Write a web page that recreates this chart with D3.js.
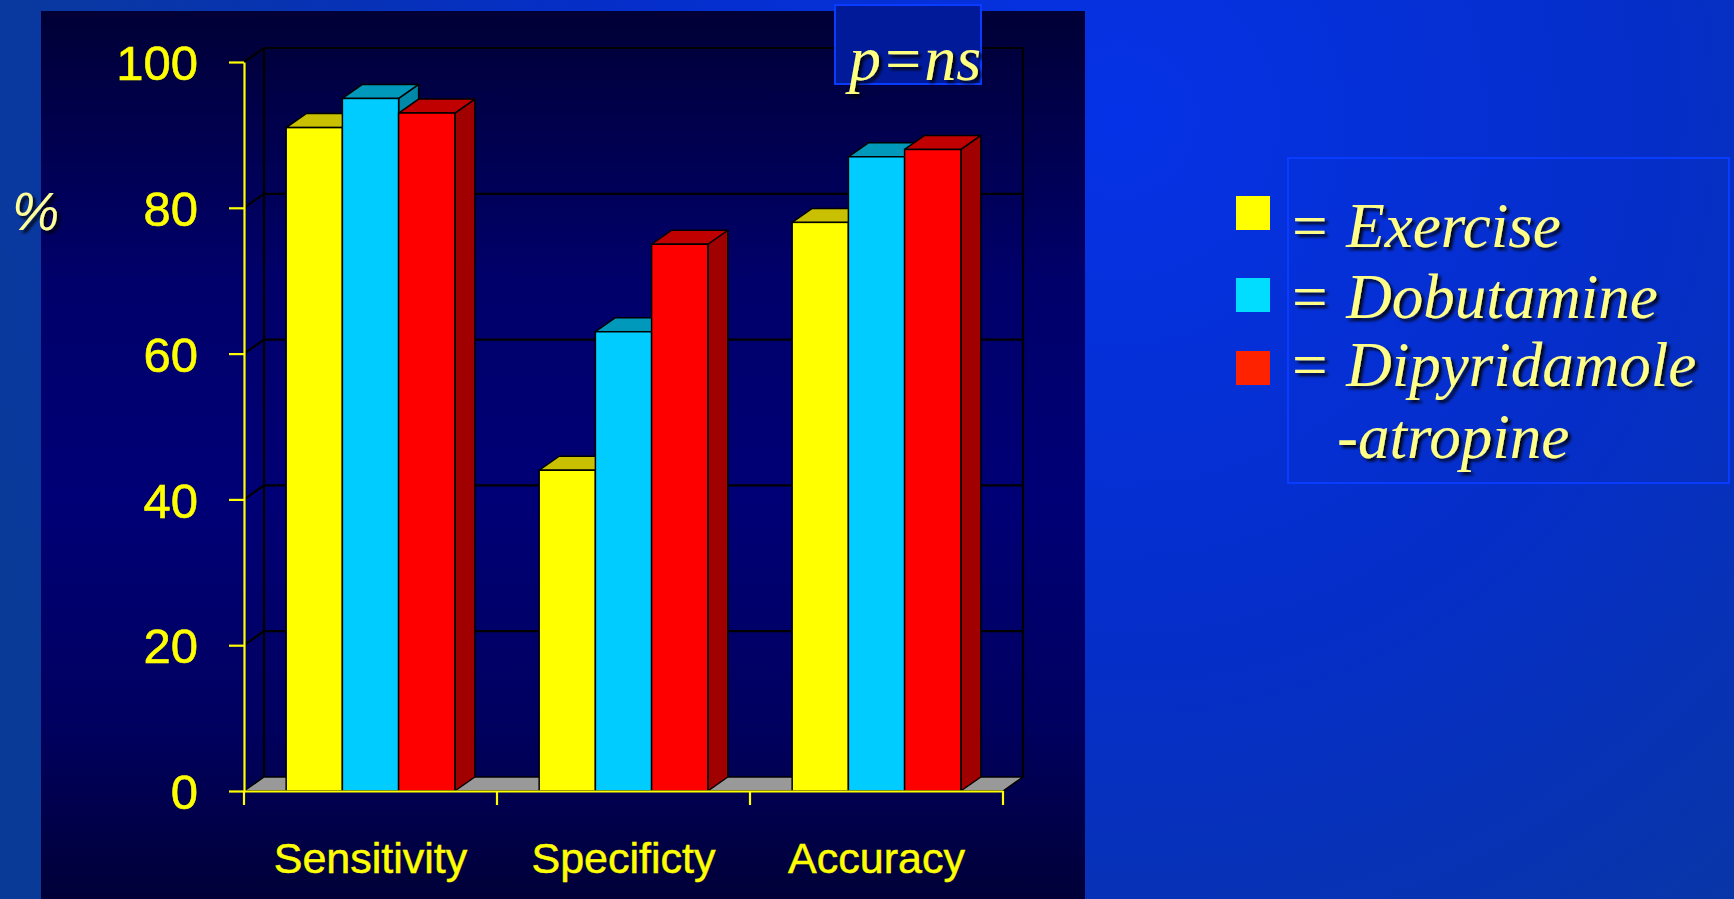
<!DOCTYPE html>
<html>
<head>
<meta charset="utf-8">
<script src="https://cdn.jsdelivr.net/npm/d3@7"></script>
<style>
  html, body { margin: 0; padding: 0; background: #0530c0; }
  svg { display: block; }
</style>
</head>
<body>
<svg id="chart" width="1734" height="899"></svg>
<script>
// Diagnostic performance by stress modality (%)
const categories = ["Sensitivity", "Specificty", "Accuracy"];
const seriesNames = ["Exercise", "Dobutamine", "Dipyridamole"];
const exercise = [91, 44, 78];
const dobutamine = [95, 63, 87];
const dipyridamole = [93, 75, 88];
const yTicks = [0, 20, 40, 60, 80, 100];
const legendLines = ["= Exercise", "= Dobutamine", "= Dipyridamole", "-atropine"];
const pLabel = "p=ns";

const seriesValues = [exercise, dobutamine, dipyridamole];

// face colours per series: front, top, side
const faceColors = [
  { front: "#ffff00", top: "#c8c000", side: "#a0a000", key: "#ffff00" },
  { front: "#00ccff", top: "#0099bb", side: "#0088a8", key: "#00ddff" },
  { front: "#ff0000", top: "#c00000", side: "#a00000", key: "#ff2200" }
];

const svg = d3.select("#chart");
const W = 1734, H = 899;
const defs = svg.append("defs");

// slide background
const bg = defs.append("radialGradient").attr("id", "bgGrad")
  .attr("gradientUnits", "userSpaceOnUse")
  .attr("cx", 1120).attr("cy", 120).attr("r", 1200);
bg.append("stop").attr("offset", 0).attr("stop-color", "#0532e6");
bg.append("stop").attr("offset", 0.45).attr("stop-color", "#052ec8");
bg.append("stop").attr("offset", 1).attr("stop-color", "#0a3a98");
svg.append("rect").attr("width", W).attr("height", H).attr("fill", "url(#bgGrad)");

// chart panel
const pg = defs.append("linearGradient").attr("id", "panelGrad")
  .attr("x1", 0).attr("y1", 0).attr("x2", 0).attr("y2", 1);
[[0, "#000036"], [0.3, "#00006a"], [0.55, "#000076"], [0.8, "#000060"], [1, "#000038"]]
  .forEach(([o, c]) => pg.append("stop").attr("offset", o).attr("stop-color", c));
svg.append("rect").attr("x", 41).attr("y", 11).attr("width", 1044).attr("height", 888)
  .attr("fill", "url(#panelGrad)");

// soft text shadow
const sh = defs.append("filter").attr("id", "shadow")
  .attr("x", "-20%").attr("y", "-20%").attr("width", "150%").attr("height", "150%");
sh.append("feDropShadow").attr("dx", 3).attr("dy", 3).attr("stdDeviation", 1.6)
  .attr("flood-color", "#000000").attr("flood-opacity", 0.85);

// scales
const y = d3.scaleLinear().domain([0, 100]).range([791, 62]);
const x0 = d3.scaleBand().domain(categories).range([244, 1003]).padding(0);
const x1 = d3.scaleBand().domain(seriesNames).range([0, x0.bandwidth()])
  .paddingInner(0).paddingOuter(0.75);
const DX = 20, DY = 14;
const xL = x0.range()[0], xR = x0.range()[1];

// back wall grid
const wall = svg.append("g");
wall.selectAll("line.grid").data(yTicks.filter(t => t > 0)).join("line")
  .attr("x1", xL + DX).attr("x2", xR + DX)
  .attr("y1", d => y(d) - DY).attr("y2", d => y(d) - DY)
  .attr("stroke", "#000").attr("stroke-width", 2.2);
wall.selectAll("line.side").data(yTicks.filter(t => t > 0)).join("line")
  .attr("x1", xL).attr("x2", xL + DX)
  .attr("y1", d => y(d)).attr("y2", d => y(d) - DY)
  .attr("stroke", "#000").attr("stroke-width", 2.2);
[xL + DX, xR + DX].forEach(xx => {
  wall.append("line").attr("x1", xx).attr("x2", xx)
    .attr("y1", y(100) - DY).attr("y2", y(0) - DY)
    .attr("stroke", "#000").attr("stroke-width", 2.2);
});

// floor
svg.append("polygon")
  .attr("points", [[xL, y(0)], [xL + DX, y(0) - DY], [xR + DX, y(0) - DY], [xR, y(0)]].join(" "))
  .attr("fill", "#999999").attr("stroke", "#000").attr("stroke-width", 1.5);

// bars
const barData = [];
categories.forEach((c, ci) => {
  seriesNames.forEach((s, si) => {
    barData.push({ cat: c, series: s, si, value: seriesValues[si][ci] });
  });
});
const bars = svg.append("g").selectAll("g.bar").data(barData).join("g");
bars.each(function(d) {
  const g = d3.select(this);
  const x = x0(d.cat) + x1(d.series);
  const w = x1.bandwidth();
  const yt = y(d.value), yb = y(0);
  const col = faceColors[d.si];
  g.append("polygon")
    .attr("points", [[x + w, yt], [x + w + DX, yt - DY], [x + w + DX, yb - DY], [x + w, yb]].join(" "))
    .attr("fill", col.side).attr("stroke", "#000").attr("stroke-width", 1.5).attr("stroke-linejoin", "round");
  g.append("polygon")
    .attr("points", [[x, yt], [x + DX, yt - DY], [x + w + DX, yt - DY], [x + w, yt]].join(" "))
    .attr("fill", col.top).attr("stroke", "#000").attr("stroke-width", 1.5).attr("stroke-linejoin", "round");
  g.append("rect").attr("x", x).attr("y", yt).attr("width", w).attr("height", yb - yt)
    .attr("fill", col.front).attr("stroke", "#000").attr("stroke-width", 1.5);
});

// y axis
const yAxis = svg.append("g").attr("transform", `translate(${xL},0)`)
  .call(d3.axisLeft(y).tickValues(yTicks).tickSize(15).tickSizeOuter(0).tickPadding(31));
yAxis.select(".domain").attr("stroke", "#ffff00").attr("stroke-width", 2.2);
yAxis.selectAll(".tick line").attr("stroke", "#ffff00").attr("stroke-width", 2.2);
yAxis.selectAll(".tick text")
  .attr("fill", "#ffff00").attr("stroke", "#ffff00").attr("stroke-width", 0.6)
  .attr("font-family", "'Liberation Sans', Arial, sans-serif")
  .attr("font-size", 49).attr("dy", "0.36em");
svg.append("line").attr("x1", xL).attr("x2", xL).attr("y1", y(0)).attr("y2", y(0) + 14)
  .attr("stroke", "#ffff00").attr("stroke-width", 2.2);

// x axis: category labels centred, ticks on band edges
const xAxis = svg.append("g").attr("transform", `translate(0,${y(0)})`)
  .call(d3.axisBottom(x0).tickSize(0).tickSizeOuter(0).tickPadding(0));
xAxis.select(".domain").attr("stroke", "#ffff00").attr("stroke-width", 2.2);
xAxis.selectAll(".tick text")
  .attr("fill", "#ffff00").attr("stroke", "#ffff00").attr("stroke-width", 0.5)
  .attr("font-family", "'Liberation Sans', Arial, sans-serif")
  .attr("font-size", 43).attr("dy", null).attr("y", 82);
svg.append("g").selectAll("line").data(categories).join("line")
  .attr("x1", d => x0(d) + x0.bandwidth()).attr("x2", d => x0(d) + x0.bandwidth())
  .attr("y1", y(0)).attr("y2", y(0) + 14)
  .attr("stroke", "#ffff00").attr("stroke-width", 2.2);

// axis unit
svg.append("text").attr("x", 12).attr("y", 230)
  .attr("font-family", "'Liberation Sans', Arial, sans-serif").attr("font-style", "italic")
  .attr("font-size", 53).attr("fill", "#ffff99").attr("filter", "url(#shadow)")
  .text("%");

// significance box
svg.append("rect").attr("x", 835).attr("y", 5).attr("width", 146).attr("height", 79)
  .attr("fill", "#001a9a").attr("stroke", "#0a3cff").attr("stroke-width", 2);
svg.append("text").attr("x", 849).attr("y", 80)
  .attr("font-family", "'Liberation Serif', 'Times New Roman', serif").attr("font-style", "italic")
  .attr("font-size", 64).attr("fill", "#ffff80").attr("filter", "url(#shadow)")
  .text(pLabel);

// legend
svg.append("rect").attr("x", 1288).attr("y", 158).attr("width", 441).attr("height", 325)
  .attr("fill", "none").attr("stroke", "#0a3cff").attr("stroke-width", 2);
const keyY = [196, 278, 351];
svg.append("g").selectAll("rect").data(seriesNames).join("rect")
  .attr("x", 1236).attr("y", (d, i) => keyY[i]).attr("width", 34).attr("height", 34)
  .attr("fill", (d, i) => faceColors[i].key);
const lineX = [1288, 1288, 1288, 1337];
const lineY = [247, 318, 386, 458];
svg.append("g").selectAll("text").data(legendLines).join("text")
  .attr("x", (d, i) => lineX[i]).attr("y", (d, i) => lineY[i])
  .attr("font-family", "'Liberation Serif', 'Times New Roman', serif").attr("font-style", "italic")
  .attr("font-size", 63).attr("fill", "#ffff88").attr("filter", "url(#shadow)")
  .text(d => d);
</script>
</body>
</html>
